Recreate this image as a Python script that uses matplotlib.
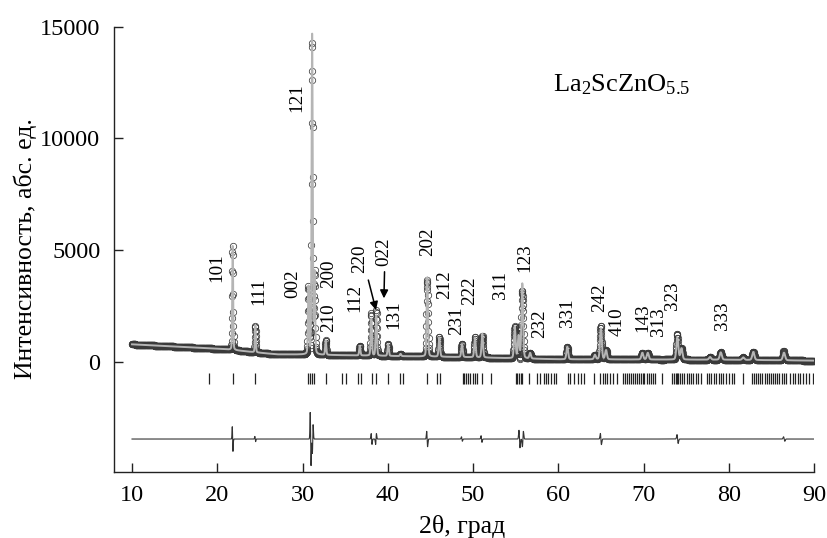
import numpy as np
import matplotlib
matplotlib.use("Agg")
import matplotlib.pyplot as plt

plt.rcParams['font.family'] = ['Liberation Serif', 'DejaVu Serif']
plt.rcParams['mathtext.fontset'] = 'custom'
plt.rcParams['mathtext.rm'] = 'Liberation Serif'
plt.rcParams['mathtext.it'] = 'Liberation Serif:italic'

# ---- data ----
# background nodes (2theta, intensity)
bg_x = [10, 15, 20, 22, 24.5, 27, 30, 35, 40, 45, 50, 55, 60, 70, 80, 90]
bg_y = [780, 680, 580, 520, 420, 330, 320, 290, 260, 230, 200, 150, 110, 100, 90, 50]

# diffraction peaks: position, net height above background
peak_pos = [21.81, 24.47, 30.70, 31.13, 31.42, 32.72, 36.72, 38.07, 38.65, 40.05,
            41.50, 44.64, 46.05, 48.71, 50.23, 51.09, 54.90, 55.35, 55.78, 56.70,
            61.06, 64.30, 65.00, 65.60, 69.86, 70.50, 73.97, 74.45, 77.80, 79.06,
            81.70, 82.88, 86.48]
peak_height = [4750, 1250, 3000, 14500, 3600, 640, 430, 1665, 1815, 530,
               100, 3550, 870, 580, 890, 1070, 1420, 1000, 3350, 250,
               565, 200, 1390, 410, 300, 300, 990, 500, 120, 330,
               110, 360, 340]

# residual (obs - calc) features: position, amplitude
res_pos = [21.80, 24.45, 30.95, 31.20, 38.10, 38.62, 44.62, 48.70, 51.00, 55.45, 55.85, 65.00, 74.00, 86.50]
res_amp = [550, 120, 1200, -650, 250, -250, 350, 100, 150, 400, -350, 250, 200, 100]
res_offset = -3460

# Bragg reflection positions
bragg = [19.03, 21.83, 24.47, 30.68, 30.90, 31.13, 31.40, 32.76, 34.68, 35.12, 36.50, 36.88,
         38.17, 38.66, 40.07, 41.42, 41.83, 44.64, 45.80, 46.10,
         48.78, 48.98, 49.22, 49.45, 49.70, 49.95, 50.23, 50.45, 51.10, 52.08,
         55.00, 55.20, 55.42, 55.62, 55.80, 56.62, 57.50, 57.85, 58.30, 58.55, 58.82, 59.10, 59.45, 59.75,
         61.10, 61.40, 61.85, 62.30, 62.70, 63.05, 64.20, 64.95, 65.20, 65.45, 65.75, 66.10, 66.40, 66.85,
         67.62, 67.85, 68.10, 68.35, 68.55, 68.80, 69.05, 69.25, 69.45, 69.70, 69.90, 70.10, 70.35,
         70.60, 70.85, 71.10, 71.35, 72.22,
         73.30, 73.55, 73.80, 73.95, 74.10, 74.30, 74.55, 74.80, 75.05, 75.30, 75.55, 75.80, 76.10,
         76.40, 76.75, 77.40, 77.65, 77.95, 78.25, 78.50, 78.80, 79.05, 79.35, 79.65, 80.00, 80.35,
         80.65, 81.70,
         82.75, 83.00, 83.20, 83.45, 83.70, 83.95, 84.20, 84.45, 84.70, 84.95, 85.15, 85.40, 85.65,
         85.90, 86.20, 86.50, 86.75, 87.20, 87.50, 87.80, 88.10, 88.40, 88.75, 89.10, 89.45, 89.85]

# hkl labels: text, x (deg), y (intensity)
hkl_text = ['101', '111', '002', '121', '200', '210', '112', '220', '022', '131', '202', '212',
            '231', '222', '311', '123', '232', '331', '242', '410', '143', '313', '323', '333']
hkl_x = [19.94, 24.86, 28.85, 29.32, 33.03, 33.03, 36.16, 36.74, 39.48, 40.65, 44.64, 46.72,
         48.08, 49.65, 53.17, 56.11, 57.87, 61.06, 64.82, 66.85, 69.91, 71.74, 73.43, 79.29]
hkl_y = [4194, 3165, 3478, 11826, 3925, 1956, 2874, 4597, 4910, 2090, 5358, 3433,
         1822, 3165, 3433, 4642, 1687, 2180, 2851, 1777, 1956, 1799, 2941, 2046]

# ---- build profiles ----
tth = np.arange(10.0, 90.0001, 0.02)
background = np.interp(tth, bg_x, bg_y)
calc = background.copy()
for p, h in zip(peak_pos, peak_height):
    s = 0.05 + 0.0012 * (p - 20)
    g = np.exp(-0.5 * ((tth - p) / s) ** 2)
    lz = 1.0 / (1.0 + ((tth - p) / (1.2 * s)) ** 2)
    calc += h * (0.8 * g + 0.2 * lz)
resid = np.zeros_like(tth)
for p, a in zip(res_pos, res_amp):
    w = 0.04 + 0.0005 * (p - 20)
    u = (tth - p) / w
    resid += a * (-u) * np.exp(0.5 - 0.5 * u ** 2)
obs = calc + resid

# ---- plot ----
fig = plt.figure(figsize=(8.27, 5.38), dpi=100)
ax = fig.add_axes([0.1382, 0.1221, 0.9843 - 0.1382, 0.9504 - 0.1221])

ax.plot(tth, obs, linestyle='none', marker='o', ms=4.6, mfc='none', mec='#3a3a3a', mew=0.55, zorder=2)
ax.plot(tth, calc, color='#b5b5b5', lw=1.4, zorder=3)
ax.plot(tth, res_offset + resid, color='#333333', lw=0.8, zorder=2)
ax.vlines(bragg, -1000, -500, color='#222222', lw=0.9, zorder=2)

for t, x, y in zip(hkl_text, hkl_x, hkl_y):
    ax.text(x, y, t, rotation=90, ha='center', va='center', fontsize=13.7)

ax.annotate('', xy=(38.62, 2314), xytext=(37.72, 3657),
            arrowprops=dict(arrowstyle='-|>', color='k', lw=1.1, mutation_scale=12, shrinkA=0, shrinkB=0))
ax.annotate('', xy=(39.55, 2838), xytext=(39.62, 4028),
            arrowprops=dict(arrowstyle='-|>', color='k', lw=1.1, mutation_scale=12, shrinkA=0, shrinkB=0))

ax.text(67.48, 12400, r'La$_2$ScZnO$_{5.5}$', ha='center', va='center', fontsize=19)

ax.set_xlim(7.92, 90)
ax.set_ylim(-4950, 15000)
ax.set_xticks(range(10, 91, 10))
ax.set_yticks([0, 5000, 10000, 15000])
ax.spines['top'].set_visible(False)
ax.spines['right'].set_visible(False)
for sp in ('left', 'bottom'):
    ax.spines[sp].set_linewidth(1.0)
    ax.spines[sp].set_color('#222222')
ax.tick_params(direction='in', length=6.5, width=1.0, labelsize=17.5, color='#222222')
ax.tick_params(axis='x', pad=9)
ax.tick_params(axis='y', pad=10)
ax.set_xlabel('2θ, град', fontsize=18.5)
ax.set_ylabel('Интенсивность, абс. ед.', fontsize=18.5)
ax.xaxis.set_label_coords(0.497, -0.096)
ax.yaxis.set_label_coords(-0.110, 0.502)

fig.savefig('out.png', dpi=100)
